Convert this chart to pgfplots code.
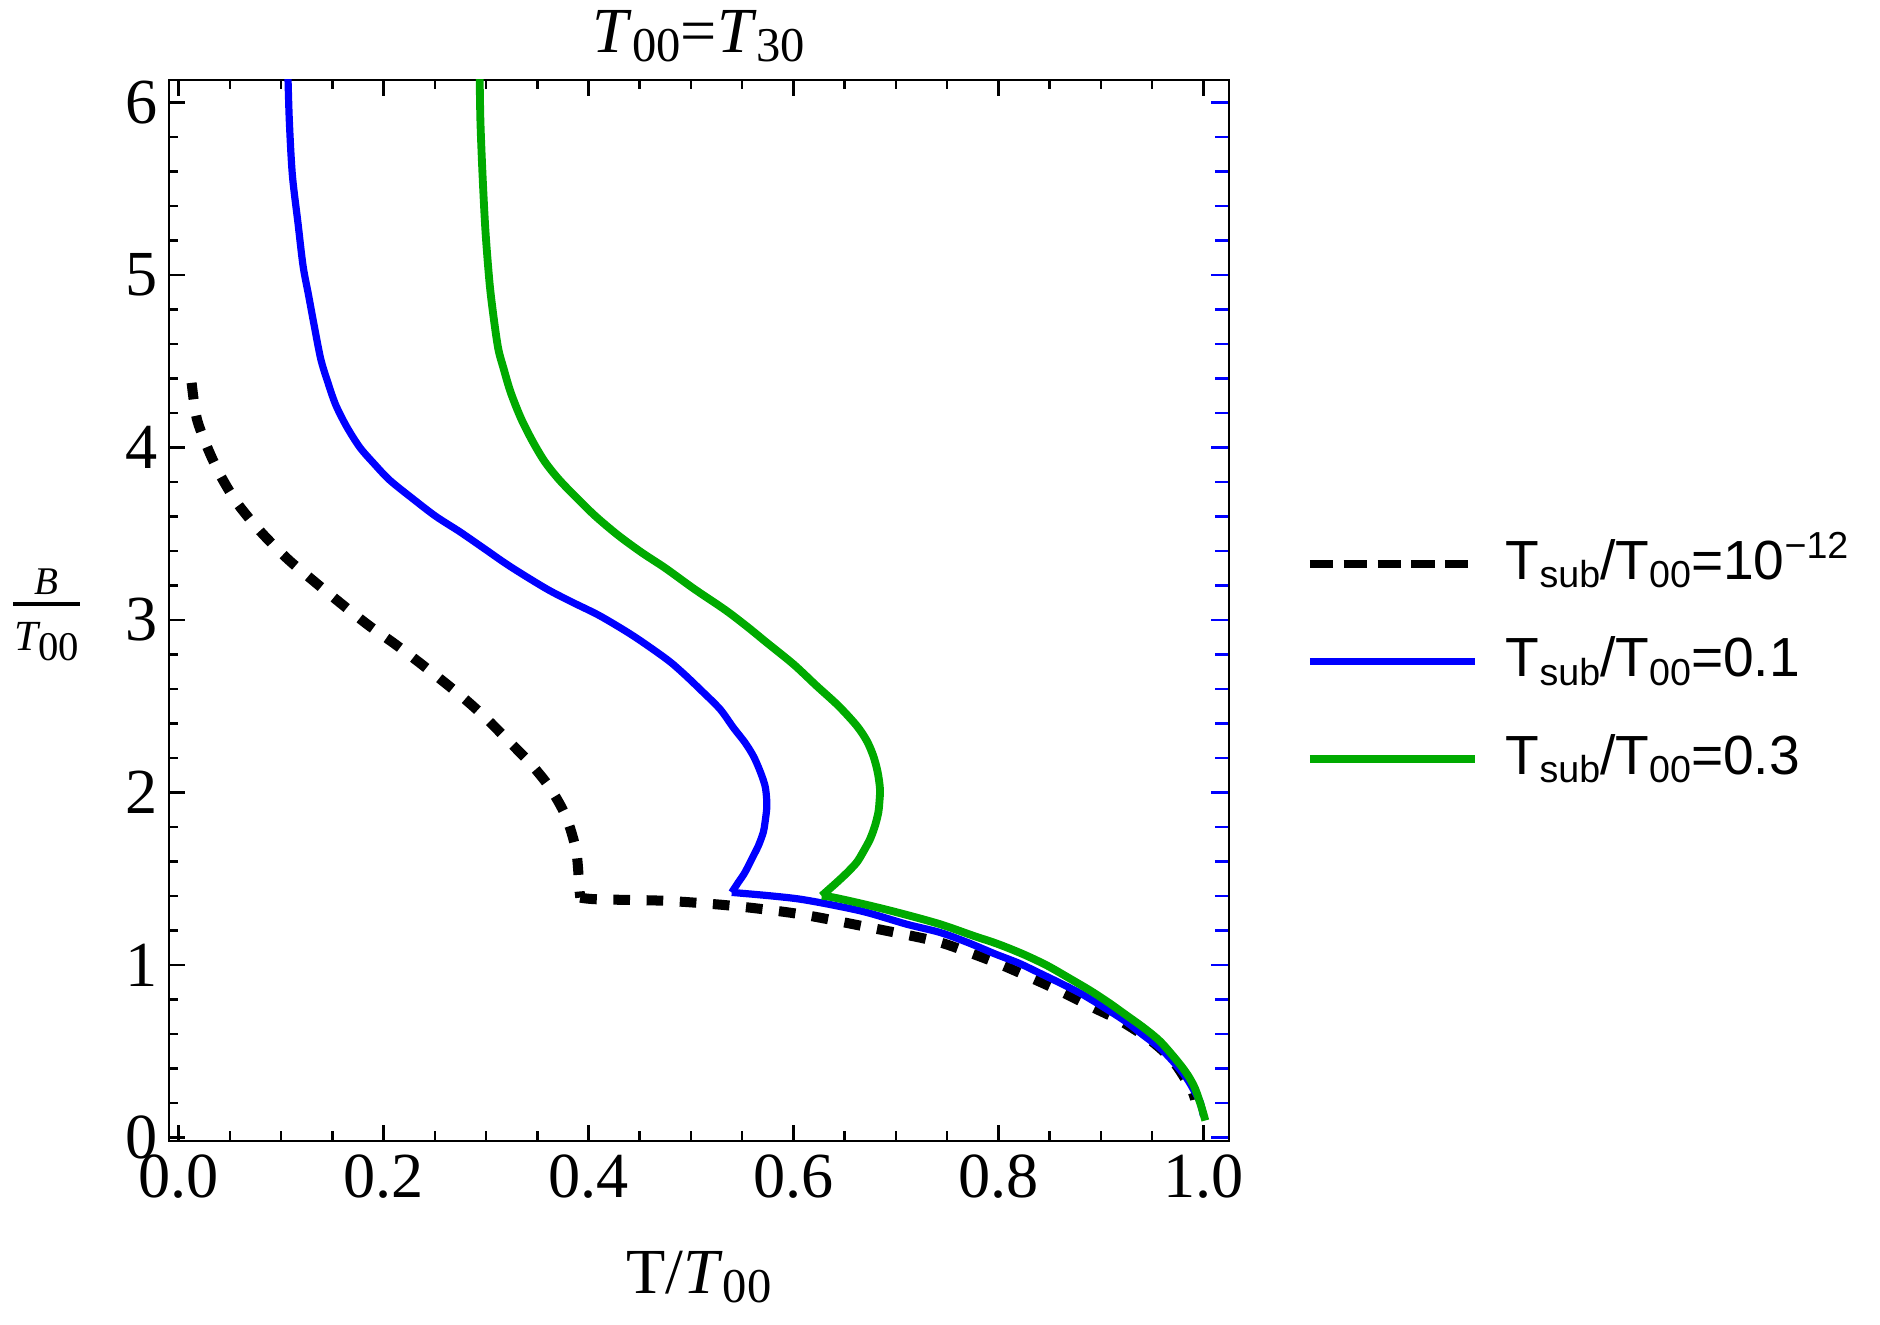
\documentclass[border=0pt]{standalone}
\usepackage{fontspec}
\usepackage{pgfplots}
\pgfplotsset{compat=1.18}
\setmainfont{Liberation Serif}
\newfontfamily\lsans{Liberation Sans}
\definecolor{mgreen}{RGB}{0,170,0}
\newcommand{\tsub}[1]{\raisebox{-2.7pt}{\fontsize{15.5}{16}\selectfont #1}}
\newcommand{\lsub}[1]{\raisebox{-2.7pt}{\fontsize{12}{13}\selectfont #1}}
\newcommand{\lsup}[1]{\raisebox{6.5pt}{\fontsize{12}{13}\selectfont #1}}
\newcommand{\yfrac}{\vbox{\offinterlineskip
  \hbox to 21.3pt{\hss\fontsize{12.5}{13}\selectfont\itshape B\hss}
  \kern2.3pt \hrule height 1.3pt \kern5.35pt
  \hbox to 21.3pt{\hss{\fontsize{13.7}{14}\selectfont\itshape T}\raisebox{-3.2pt}{\fontsize{13}{14}\selectfont 00}\hss}}}
\begin{document}
\begin{tikzpicture}
\useasboundingbox (-53.9pt,-58.7pt) rectangle (546.1pt,364.1pt);
\begin{axis}[
  at={(0pt,0pt)}, anchor=south west,
  scale only axis, width=338.3pt, height=338.6pt,
  xmin=-0.0095, xmax=1.025, ymin=-0.02, ymax=6.13,
  axis line style={line width=0.8pt},
  tick style={black, line width=0.8pt},
  major tick length=5pt, minor tick length=3pt,
  tick align=inside,
  xtick={0,0.2,0.4,0.6,0.8,1}, minor x tick num=3,
  ytick={0,1,2,3,4,5,6}, minor y tick num=4,
  xtick pos=both, ytick pos=left,
  tick label style={font=\fontsize{20.5}{24}\selectfont},
  /pgf/number format/assume math mode=true,
  xticklabel style={yshift=-0.8pt, /pgf/number format/.cd, fixed, fixed zerofill, precision=1},
  yticklabel style={/pgf/number format/.cd, fixed, precision=0},
  title={\textit{T}\tsub{00}=\textit{T}\tsub{30}},
  title style={at={(axis description cs:0.5,1)}, anchor=base, yshift=2.7pt, font=\fontsize{20.5}{24}\selectfont, inner sep=0pt},
  xlabel={T/\textit{T}\tsub{00}},
  xlabel style={at={(axis description cs:0.5,0)}, anchor=base, yshift=-48.8pt, font=\fontsize{20.5}{24}\selectfont, inner sep=0pt},
  ylabel={\yfrac},
  ylabel style={rotate=-90, at={(axis description cs:0,0.4956)}, anchor=center, xshift=-39pt, inner sep=0pt},
  clip=true,
  legend style={
    draw=none, fill=none,
    at={(axis description cs:1,0)}, anchor=south west,
    xshift=24.6pt, yshift=113pt,
    inner sep=0pt, outer sep=0pt,
    row sep=15.1pt,
    font=\lsans\fontsize{17.6}{20}\selectfont,
    /tikz/every odd column/.append style={column sep=8.6pt},
    nodes={inner sep=0pt, outer sep=0pt, text height=12pt, text depth=4pt},
    cells={anchor=base west},
  },
  legend image code/.code={\draw[#1] (0pt,4.85pt) -- (52.7pt,4.85pt);},
]
% black dashed, T_sub/T_00 = 1e-12
\addplot[black, line width=3.2pt, dash pattern=on 5.3pt off 5.3pt, smooth,
  legend image code/.code={\draw[black, line width=2.5pt, dash pattern=on 7.4pt off 3.4pt] (0pt,4.85pt) -- (52.7pt,4.85pt);}]
coordinates {
(0.0127,4.374)(0.0176,4.17)(0.028,4.00)(0.041,3.835)(0.058,3.67)(0.081,3.505)
(0.106,3.355)(0.1298,3.235)(0.1574,3.10)(0.185,2.97)(0.2111,2.86)(0.2355,2.75)
(0.260,2.635)(0.2805,2.535)(0.300,2.43)(0.3217,2.30)(0.343,2.17)(0.362,2.03)
(0.378,1.86)(0.388,1.66)(0.391,1.45)(0.392,1.39)
};
\addlegendentry{T\lsub{sub}/T\lsub{00}=10\lsup{−12}}
\addplot[black, line width=3.2pt, dash pattern=on 5.3pt off 5.3pt, smooth, forget plot]
coordinates {
(0.392,1.39)(0.409,1.38)(0.4763,1.371)
(0.5413,1.342)(0.6064,1.294)(0.6716,1.22)(0.737,1.14)(0.770,1.075)(0.801,1.005)
(0.830,0.93)(0.860,0.849)(0.890,0.76)(0.920,0.673)(0.950,0.556)(0.971,0.439)
(0.988,0.283)(0.992,0.22)
};
% blue, T_sub/T_00 = 0.1
\addplot[blue, line width=2.3pt, line join=round, smooth]
coordinates {
(0.1065,6.2)(0.108,5.9)(0.111,5.58)(0.1165,5.3)(0.1215,5.05)(0.127,4.876)(0.1325,4.70)
(0.1388,4.51)(0.146,4.37)(0.1534,4.245)(0.164,4.12)(0.1768,4.00)(0.190,3.91)(0.206,3.81)
(0.229,3.70)(0.251,3.60)(0.2746,3.51)(0.299,3.41)(0.3234,3.31)(0.359,3.18)(0.385,3.10)
(0.4112,3.023)(0.4437,2.907)(0.4763,2.772)(0.4925,2.69)(0.5088,2.598)(0.5283,2.483)
(0.5413,2.376)(0.5527,2.289)(0.5609,2.211)(0.5674,2.124)(0.5723,2.038)(0.5739,1.960)
(0.5739,1.903)(0.5723,1.826)(0.5706,1.768)(0.5658,1.690)(0.5609,1.632)(0.5527,1.536)
(0.5462,1.478)(0.5398,1.420)
};
\addlegendentry{T\lsub{sub}/T\lsub{00}=0.1}
\addplot[blue, line width=2.3pt, line join=round, smooth, forget plot]
coordinates {
(0.5398,1.420)(0.5479,1.416)
(0.578,1.40)(0.6064,1.381)(0.640,1.345)(0.6716,1.304)(0.711,1.235)(0.7431,1.188)
(0.770,1.13)(0.797,1.063)(0.820,1.01)(0.839,0.956)(0.862,0.89)(0.882,0.829)(0.904,0.75)
(0.924,0.673)(0.942,0.59)(0.958,0.517)(0.972,0.43)(0.984,0.341)(0.992,0.26)(0.997,0.205)
(1.0,0.127)
};
% green, T_sub/T_00 = 0.3
\addplot[mgreen, line width=2.5pt, line join=round, smooth]
coordinates {
(0.2937,6.2)(0.2945,5.9)(0.2966,5.58)(0.2995,5.25)(0.3035,4.95)(0.3075,4.75)(0.312,4.57)
(0.317,4.46)(0.324,4.32)(0.334,4.17)(0.345,4.04)(0.357,3.92)(0.371,3.815)(0.388,3.71)
(0.407,3.60)(0.429,3.49)(0.452,3.39)(0.475,3.30)(0.503,3.18)(0.5336,3.057)(0.555,2.96)
(0.574,2.868)(0.600,2.743)(0.6227,2.617)(0.6439,2.502)(0.6618,2.386)(0.6716,2.299)
(0.678,2.211)(0.6823,2.115)(0.6845,2.018)(0.6839,1.941)(0.6829,1.884)(0.6796,1.806)
(0.6748,1.729)(0.6683,1.657)(0.6618,1.594)(0.652,1.532)(0.6423,1.478)(0.6342,1.435)
(0.6276,1.400)
};
\addlegendentry{T\lsub{sub}/T\lsub{00}=0.3}
\addplot[mgreen, line width=2.5pt, line join=round, smooth, forget plot]
coordinates {
(0.6276,1.400)(0.639,1.391)(0.670,1.35)(0.704,1.30)(0.743,1.236)(0.775,1.17)(0.800,1.12)
(0.825,1.06)(0.848,0.995)(0.870,0.92)(0.890,0.85)(0.908,0.78)(0.924,0.712)(0.942,0.635)
(0.958,0.556)(0.975,0.44)(0.985,0.36)(0.992,0.283)(0.998,0.18)(1.002,0.098)
};
\end{axis}
\begin{axis}[
  at={(0pt,0pt)}, anchor=south west,
  scale only axis, width=338.3pt, height=338.6pt,
  xmin=-0.0095, xmax=1.025, ymin=-0.02, ymax=6.13,
  hide x axis, axis y line*=right,
  axis line style={-, line width=0.8pt},
  ytick={0,1,2,3,4,5,6}, minor y tick num=4, yticklabels={},
  tick style={blue, line width=0.8pt},
  tick align=inside, major tick length=5.6pt, minor tick length=4.5pt,
]
\addplot[draw=none] coordinates {(0,0)};
\end{axis}
\end{tikzpicture}
\end{document}
